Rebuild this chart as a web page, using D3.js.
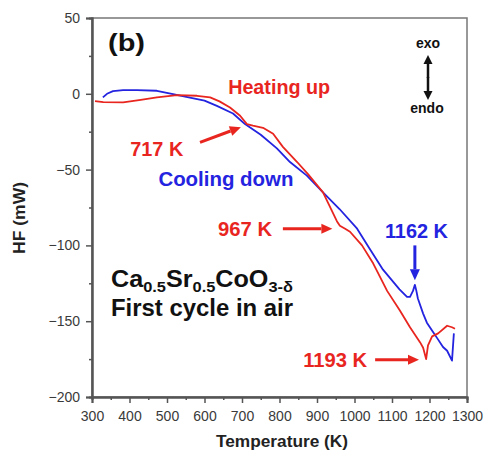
<!DOCTYPE html>
<html>
<head>
<meta charset="utf-8">
<script src="https://cdn.jsdelivr.net/npm/d3@7"></script>
<style>
  body { margin: 0; background: #fff; }
  svg { font-family: "Liberation Sans", Arial, sans-serif; }
</style>
</head>
<body>
<div id="chart"></div>
<script>
// heating curve (red), temperature in K and heat flow in mW
var heatTemp = [308, 330, 383, 430, 473, 527, 580, 615, 640, 668, 695, 713, 729, 756, 783, 809, 847, 876, 916, 953, 961, 975, 988, 1020, 1050, 1087, 1121, 1148, 1175, 1183, 1191, 1196, 1207, 1223, 1247, 1260, 1268];
var heatHF   = [-4.8, -5.5, -5.7, -4, -2.4, -0.9, -1.3, -2.4, -5, -9, -14.5, -20, -21, -22.4, -26.4, -35, -45, -53, -65, -84, -87, -89, -91, -100, -112, -130, -143, -154, -164, -167.5, -175, -166, -160, -158, -153, -154, -155];

// cooling curve (blue), recorded from high to low temperature
var coolTemp = [1265, 1260, 1247, 1236, 1220, 1209, 1193, 1183, 1169, 1165, 1161, 1156, 1148, 1140, 1120, 1076, 1040, 1007, 960, 916, 873, 828, 793, 750, 708, 676, 633, 600, 561, 516, 473, 420, 383, 356, 340, 329];
var coolHF   = [-158, -176, -169.5, -167, -161, -157, -151, -145, -135, -130, -126, -130, -134, -134, -129, -116, -102, -89, -76, -65, -54, -45, -36, -27, -20, -13, -8, -4.5, -2.5, -0.2, 2, 2.4, 2.4, 1.8, 0, -2.4];

var xTicks = [300, 400, 500, 600, 700, 800, 900, 1000, 1100, 1200, 1300];
var xMinor = [350, 450, 550, 650, 750, 850, 950, 1050, 1150, 1250];
var yTicks = [-200, -150, -100, -50, 0, 50];
var yMinor = [-175, -125, -75, -25, 25];

// annotation arrows, in data units
var arrows = [
  {from: [588, -32], to: [697, -22], color: "red"},
  {from: [809, -89], to: [941, -89], color: "red"},
  {from: [1161, -100], to: [1161, -123], color: "blue"},
  {from: [1055, -175.5], to: [1172, -175.5], color: "red"}
];
var labels = [
  {text: "Heating up", t: 663, hf: 0, color: "red", len: 102},
  {text: "717 K", t: 402, hf: -41, color: "red", len: 53},
  {text: "Cooling down", t: 477, hf: -61, color: "blue", len: 135},
  {text: "967 K", t: 636, hf: -93.5, color: "red", len: 54},
  {text: "1162 K", t: 1081, hf: -95, color: "blue", len: 63},
  {text: "1193 K", t: 863, hf: -180.5, color: "red", len: 64}
];

var RED = "#e8261f", BLUE = "#2323e0", AXIS = "#555";
var width = 484, height = 457;
var margin = {top: 18, right: 17, bottom: 60, left: 92};

var x = d3.scaleLinear().domain([300, 1300]).range([margin.left, width - margin.right]);
var y = d3.scaleLinear().domain([-200, 50]).range([height - margin.bottom, margin.top]);

var svg = d3.select("#chart").append("svg")
    .attr("width", width)
    .attr("height", height);

// frame
svg.append("rect")
    .attr("x", x(300)).attr("y", y(50))
    .attr("width", x(1300) - x(300)).attr("height", y(-200) - y(50))
    .attr("fill", "none").attr("stroke", "#777").attr("stroke-width", 1.5);

function styleAxis(g) {
    g.select(".domain").attr("stroke", AXIS).attr("stroke-width", 2);
    g.selectAll(".tick line").attr("stroke", AXIS).attr("stroke-width", 1.5);
    g.selectAll(".tick text").attr("fill", "#3a3a3a").style("font-size", "14px");
}

svg.append("g")
    .attr("transform", "translate(0," + y(-200) + ")")
    .call(d3.axisBottom(x).tickValues(xTicks).tickSize(6).tickPadding(8).tickFormat(d3.format("d")))
    .call(styleAxis);
svg.append("g")
    .attr("transform", "translate(0," + y(-200) + ")")
    .call(d3.axisBottom(x).tickValues(xMinor).tickSize(3).tickFormat(""))
    .call(styleAxis);
svg.append("g")
    .attr("transform", "translate(" + x(300) + ",0)")
    .call(d3.axisLeft(y).tickValues(yTicks).tickSize(6).tickPadding(6).tickFormat(d3.format("d")))
    .call(styleAxis);
svg.append("g")
    .attr("transform", "translate(" + x(300) + ",0)")
    .call(d3.axisLeft(y).tickValues(yMinor).tickSize(3).tickFormat(""))
    .call(styleAxis);

// axis titles
svg.append("text")
    .attr("x", 282).attr("y", 447)
    .attr("text-anchor", "middle")
    .style("font-size", "16px").style("font-weight", "bold").attr("fill", "#222")
    .attr("textLength", 132).attr("lengthAdjust", "spacingAndGlyphs")
    .text("Temperature (K)");
svg.append("text")
    .attr("transform", "translate(25,218) rotate(-90)")
    .attr("text-anchor", "middle")
    .style("font-size", "16px").style("font-weight", "bold").attr("fill", "#222")
    .attr("textLength", 72).attr("lengthAdjust", "spacingAndGlyphs")
    .text("HF (mW)");

// curves
var line = d3.line().x(d => x(d[0])).y(d => y(d[1]));

svg.append("path")
    .attr("d", line(coolTemp.map((t, i) => [t, coolHF[i]])))
    .attr("fill", "none").attr("stroke", BLUE).attr("stroke-width", 1.8)
    .attr("stroke-linejoin", "round");
svg.append("path")
    .attr("d", line(heatTemp.map((t, i) => [t, heatHF[i]])))
    .attr("fill", "none").attr("stroke", RED).attr("stroke-width", 1.8)
    .attr("stroke-linejoin", "round");

// arrows
function drawArrow(x1, y1, x2, y2, color, w, head, hw) {
    var ang = Math.atan2(y2 - y1, x2 - x1);
    var bx = x2 - head * Math.cos(ang), by = y2 - head * Math.sin(ang);
    svg.append("line")
        .attr("x1", x1).attr("y1", y1).attr("x2", bx).attr("y2", by)
        .attr("stroke", color).attr("stroke-width", w);
    var px = -Math.sin(ang) * hw, py = Math.cos(ang) * hw;
    svg.append("path")
        .attr("d", "M" + x2 + "," + y2 + "L" + (bx + px) + "," + (by + py) + "L" + (bx - px) + "," + (by - py) + "Z")
        .attr("fill", color);
}
arrows.forEach(a => {
    drawArrow(x(a.from[0]), y(a.from[1]), x(a.to[0]), y(a.to[1]),
        a.color == "red" ? RED : BLUE, 3, 11, 5);
});

// labels
labels.forEach(l => {
    svg.append("text")
        .attr("x", x(l.t)).attr("y", y(l.hf))
        .style("font-size", "20px").style("font-weight", "bold")
        .attr("fill", l.color == "red" ? RED : BLUE)
        .attr("textLength", l.len).attr("lengthAdjust", "spacingAndGlyphs")
        .text(l.text);
});

svg.append("text")
    .attr("x", 108).attr("y", 51)
    .style("font-size", "24px").style("font-weight", "bold").attr("fill", "#111")
    .attr("textLength", 37).attr("lengthAdjust", "spacingAndGlyphs")
    .text("(b)");

// compound label
var comp = svg.append("text")
    .attr("x", 111).attr("y", 287)
    .style("font-weight", "bold").attr("fill", "#111")
    .attr("textLength", 182).attr("lengthAdjust", "spacingAndGlyphs");
var parts = [["Ca", 0], ["0.5", 1], ["Sr", 0], ["0.5", 1], ["CoO", 0], ["3-\u03b4", 1]];
var prev = 0;
parts.forEach(p => {
    comp.append("tspan")
        .attr("dy", (p[1] - prev) * 5)
        .style("font-size", p[1] ? "15px" : "23px")
        .text(p[0]);
    prev = p[1];
});
svg.append("text")
    .attr("x", 111).attr("y", 316)
    .style("font-size", "23px").style("font-weight", "bold").attr("fill", "#111")
    .attr("textLength", 182).attr("lengthAdjust", "spacingAndGlyphs")
    .text("First cycle in air");

// exo / endo marker
svg.append("text")
    .attr("x", 428).attr("y", 48).attr("text-anchor", "middle")
    .style("font-size", "14px").style("font-weight", "bold").attr("fill", "#111")
    .text("exo");
svg.append("text")
    .attr("x", 427).attr("y", 113).attr("text-anchor", "middle")
    .style("font-size", "14px").style("font-weight", "bold").attr("fill", "#111")
    .text("endo");
drawArrow(428, 78, 428, 55, "#111", 2.5, 9, 4.5);
drawArrow(428, 77, 428, 100, "#111", 2.5, 9, 4.5);
</script>
</body>
</html>
